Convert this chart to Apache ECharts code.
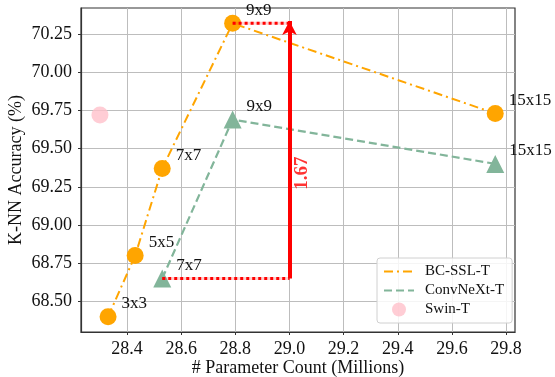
<!DOCTYPE html>
<html>
<head>
<meta charset="utf-8">
<script src="https://cdn.jsdelivr.net/npm/echarts@6/dist/echarts.min.js"></script>
<style>html,body{margin:0;padding:0;background:#fff}#c{width:555px;height:377px}</style>
</head>
<body>
<div id="c"></div>
<script>
const bcX = [28.33, 28.43, 28.53, 28.79, 29.76];
const bcY = [68.40, 68.80, 69.37, 70.32, 69.73];
const bcLabels = ['3x3', '5x5', '7x7', '9x9', '15x15'];
const cnX = [28.53, 28.79, 29.76];
const cnY = [68.65, 69.69, 69.40];
const cnLabels = ['7x7', '9x9', '15x15'];
const swinX = [28.30];
const swinY = [69.72];
const xTicks = [28.4, 28.6, 28.8, 29.0, 29.2, 29.4, 29.6, 29.8];
const yTicks = [68.50, 68.75, 69.00, 69.25, 69.50, 69.75, 70.00, 70.25];
const arrowX = 29.0;
const gapText = '1.67';
const gapTextPos = [29.048, 69.34];

const FONT = 'Liberation Serif';
const chart = echarts.init(document.getElementById('c'));
const pts = (xs, ys) => xs.map((x, i) => [x, ys[i]]);
const gapHigh = bcY[3], gapLow = cnY[0];
const redDots = { color: '#ff0000', width: 3, type: [3, 3], cap: 'butt' };
const redHalo = { color: 'rgba(255,0,0,0.18)', width: 3, type: 'solid' };

chart.setOption({
  animation: false,
  textStyle: { fontFamily: FONT },
  grid: { left: 81, right: 40, top: 8, bottom: 45, containLabel: false, outerBoundsMode: 'none',
    show: true, borderColor: '#333', borderWidth: 1.2, backgroundColor: 'transparent' },
  xAxis: {
    type: 'value', min: 28.23, max: 29.833, minInterval: 0.2, maxInterval: 0.2, splitNumber: 8,
    name: '# Parameter Count (Millions)', nameLocation: 'middle', nameGap: 27, nameMoveOverlap: false,
    nameTextStyle: { fontFamily: FONT, fontSize: 18, color: '#111' },
    axisLine: { show: true, onZero: false, lineStyle: { color: '#333', width: 1.2 } },
    axisTick: { show: true, length: 3, customValues: xTicks, lineStyle: { color: '#333' } },
    axisLabel: { fontFamily: FONT, fontSize: 18, color: '#111', margin: 8,
      formatter: v => (Math.abs(v * 5 - Math.round(v * 5)) < 1e-6 ? v.toFixed(1) : '') },
    splitLine: { show: true, lineStyle: { color: '#bdbdbd', width: 1 } }
  },
  yAxis: {
    type: 'value', min: 68.30, max: 70.42, minInterval: 0.25, maxInterval: 0.25, splitNumber: 8,
    name: 'K-NN Accuracy (%)', nameLocation: 'middle', nameGap: 56, nameMoveOverlap: false,
    nameTextStyle: { fontFamily: FONT, fontSize: 18, color: '#111' },
    axisLine: { show: true, onZero: false, lineStyle: { color: '#333', width: 1.2 } },
    axisTick: { show: true, length: 3, customValues: yTicks, lineStyle: { color: '#333' } },
    axisLabel: { fontFamily: FONT, fontSize: 18, color: '#111', margin: 9,
      formatter: v => (Math.abs(v * 4 - Math.round(v * 4)) < 1e-6 ? v.toFixed(2) : '') },
    splitLine: { show: true, lineStyle: { color: '#bdbdbd', width: 1 } }
  },
  legend: {
    left: 377, top: 258, orient: 'vertical', itemWidth: 30, itemHeight: 14, itemGap: 4,
    backgroundColor: 'rgba(255,255,255,0.85)', borderColor: '#d0d0d0', borderWidth: 1, borderRadius: 3,
    padding: [6, 8, 6, 6],
    textStyle: { fontFamily: FONT, fontSize: 15, color: '#111', padding: [0, 0, 0, 6] },
    data: [
      { name: 'BC-SSL-T', itemStyle: { opacity: 0 } },
      { name: 'ConvNeXt-T', itemStyle: { opacity: 0 } },
      { name: 'Swin-T' }
    ]
  },
  series: [
    {
      name: 'BC-SSL-T', type: 'line', data: pts(bcX, bcY), z: 3,
      symbol: 'circle', symbolSize: 17,
      itemStyle: { color: '#FFA500' },
      lineStyle: { color: '#FFA500', width: 2, type: [9, 4, 2, 4] },
      label: { show: true, position: 'right', distance: 5, offset: [0, -13], fontFamily: FONT, fontSize: 17, color: '#111',
        formatter: p => bcLabels[p.dataIndex] }
    },
    {
      name: 'ConvNeXt-T', type: 'line', data: pts(cnX, cnY), z: 3,
      symbol: 'triangle', symbolSize: 18,
      itemStyle: { color: '#82B59A' },
      lineStyle: { color: '#82B59A', width: 2.2, type: [8, 4] },
      label: { show: true, position: 'right', distance: 5, offset: [0, -13], fontFamily: FONT, fontSize: 17, color: '#111',
        formatter: p => cnLabels[p.dataIndex] }
    },
    {
      name: 'Swin-T', type: 'scatter', data: pts(swinX, swinY), z: 3,
      symbol: 'circle', symbolSize: 17, itemStyle: { color: '#FFC0CB' }
    },
    {
      name: 'gapLowHalo', type: 'line', data: [[cnX[0], gapLow], [arrowX, gapLow]], z: 4,
      symbol: 'none', silent: true, lineStyle: redHalo
    },
    {
      name: 'gapHighHalo', type: 'line', data: [[bcX[3], gapHigh], [arrowX, gapHigh]], z: 4,
      symbol: 'none', silent: true, lineStyle: redHalo
    },
    {
      name: 'gapLow', type: 'line', data: [[cnX[0], gapLow], [arrowX, gapLow]], z: 5,
      symbol: 'none', silent: true, lineStyle: redDots
    },
    {
      name: 'gapHigh', type: 'line', data: [[bcX[3], gapHigh], [arrowX, gapHigh]], z: 5,
      symbol: 'none', silent: true, lineStyle: redDots
    },
    {
      name: 'arrow', type: 'line', data: [], z: 6,
      markLine: {
        silent: true, animation: false,
        symbol: ['none', 'arrow'], symbolSize: [11, 14],
        label: { show: false },
        lineStyle: { color: '#ff0000', width: 4, type: 'solid' },
        data: [[{ coord: [arrowX, gapLow] }, { coord: [arrowX, gapHigh + 0.015] }]]
      }
    },
    {
      name: 'gapLabel', type: 'scatter', data: [gapTextPos], symbolSize: 0, z: 7, silent: true,
      label: { show: true, position: 'inside', rotate: 90, formatter: gapText, fontFamily: FONT, fontSize: 19,
        fontWeight: 700, color: '#ff0000' }
    }
  ]
});
</script>
</body>
</html>
